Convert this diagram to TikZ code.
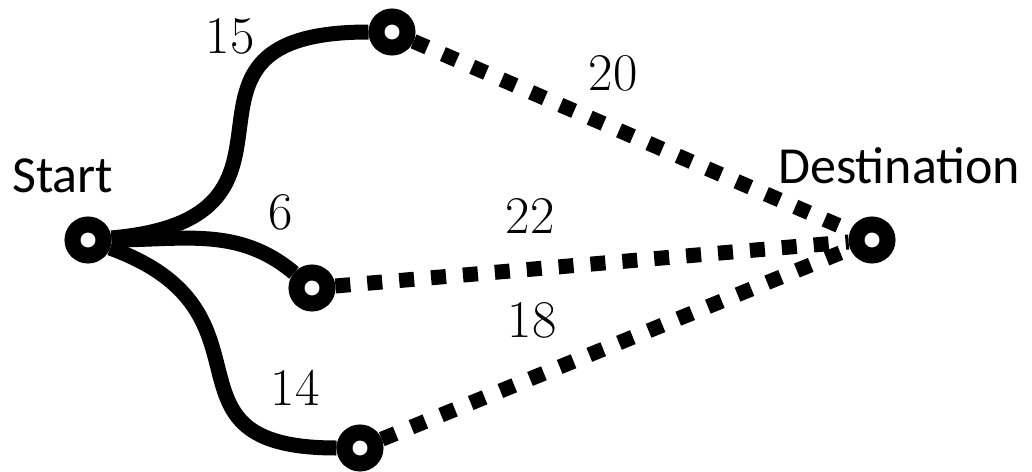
\documentclass[tikz,border=0pt]{standalone}
\usepackage{fontspec}
\newfontfamily\labelfont{Carlito}
\begin{document}
\begin{tikzpicture}[x=1pt,y=-1pt,
  vert/.style={circle,draw=black,fill=white,line width=16pt,minimum size=31pt,inner sep=0pt},
  solidedge/.style={line width=15pt,black},
  dashedge/.style={line width=15pt,black,dash pattern=on 15pt off 17pt},
  weight/.style={font=\fontsize{53}{53}\selectfont,inner sep=0pt},
  placelabel/.style={font=\labelfont\fontsize{52}{52}\selectfont,inner sep=0pt,anchor=base west}]
\useasboundingbox (0,0) rectangle (1032,471);
\node[vert] (s) at (88,240) {};
\node[vert] (t) at (392,32) {};
\node[vert] (m) at (312,288) {};
\node[vert] (b) at (360,448) {};
\node[vert] (d) at (872,240) {};
\draw[solidedge] (s) to[out=5,in=180,looseness=1.8] (t);
\draw[solidedge] (s) to[out=0,in=140] (m);
\draw[solidedge] (s) to[out=-20,in=180,looseness=1.6] (b);
\draw[dashedge] (t) -- (d);
\draw[dashedge] (m) -- (d);
\draw[dashedge] (b) -- (d);
\node[weight] (w15) at (230,36) {15};
\node[weight] (w6) at (281,212) {6};
\node[weight] (w20) at (613,73) {20};
\node[weight] (w22) at (530,216) {22};
\node[weight] (w18) at (532,320) {18};
\node[weight] (w14) at (295,388) {14};
\node[placelabel] (ls) at (12,192) {Start};
\node[placelabel] (ld) at (778,183) {Destination};
\end{tikzpicture}
\end{document}
